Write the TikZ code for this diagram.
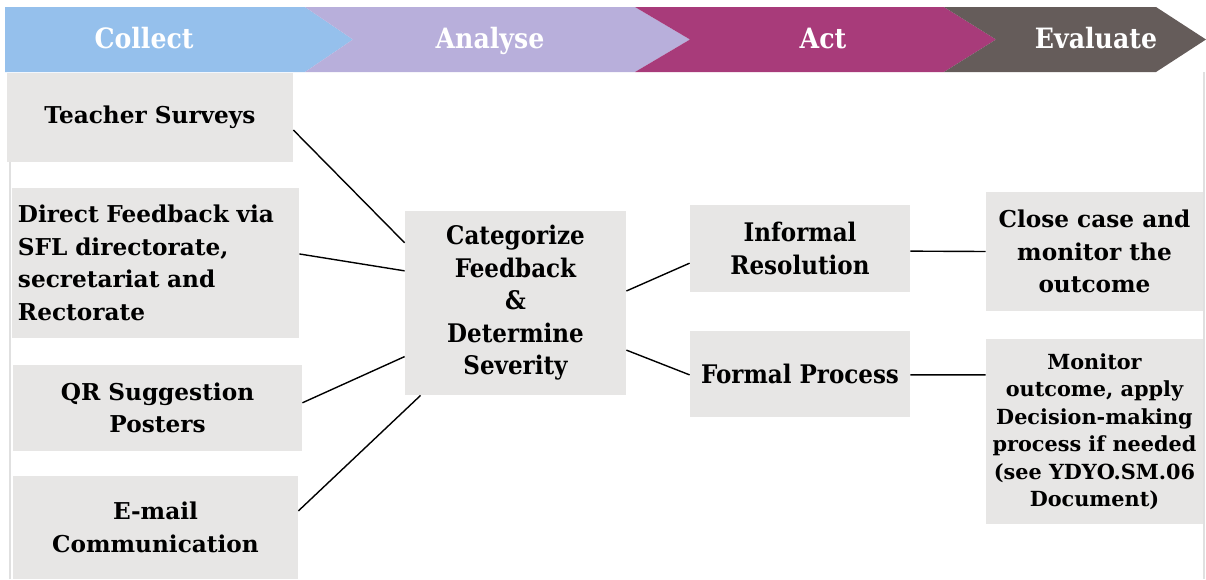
\documentclass[tikz,border=0pt]{standalone}
\usepackage{fontspec}
\setmainfont{DejaVu Serif}
\newfontfamily\condfont{DejaVu Serif Condensed}
\usepackage{tikz}
\usetikzlibrary{calc, positioning}
\definecolor{collectblue}{HTML}{95C0EC}
\definecolor{analysepurple}{HTML}{B8AFDB}
\definecolor{actmagenta}{HTML}{A83B7A}
\definecolor{evalbrown}{HTML}{655C5A}
\definecolor{boxgray}{HTML}{E7E6E5}

\begin{document}
\begin{tikzpicture}[x=0.5pt, y=-0.5pt,
	box/.style={fill=boxgray, inner sep=0pt, align=center, text=black, font=\bfseries\fontsize{11.6}{16.25}\selectfont},
	condbox/.style={box, font=\condfont\bfseries\fontsize{12.8}{16.25}\selectfont},
	head/.style={text=white, text height=1.6ex, text depth=0.4ex, font=\condfont\bfseries\fontsize{14}{16}\selectfont},
	link/.style={draw=black, line width=0.7pt}]
				\useasboundingbox (0,0) rectangle (1206,579);
				\draw[black!12, line width=0.8pt] (10,162) -- (10,579);
				\draw[black!12, line width=0.8pt] (1204,72) -- (1204,579);
				
				\foreach \a/\b/\t/\n/\col/\lx/\lab/\nm in {5/305/353/5/collectblue/144/Collect/hcol, 305/635/690/353/analysepurple/490/Analyse/hana, 635/944/996/690/actmagenta/823/Act/hact, 944/1156/1206/996/evalbrown/1096/Evaluate/heva}
				{
					\fill[\col] (\a,7) -- (\b,7) -- (\t,39.5) -- (\b,72) -- (\a,72) -- (\n,39.5) -- cycle;
					\node[head] (\nm) at (\lx,42) {\lab};
				}
				
				\node[box, minimum width=143pt, minimum height=44.5pt] (tea) at (150,117.5) {Teacher Surveys};
				\node[box, minimum width=143.5pt, minimum height=75pt, align=left, text width=137.5pt, inner xsep=3pt] (dir) at (155.5,263) {Direct Feedback via\\SFL directorate,\\secretariat and\\Rectorate};
				\node[box, minimum width=144.5pt, minimum height=43pt] (qr) at (157.5,408) {QR Suggestion\\Posters};
				\node[box, minimum width=142.5pt, minimum height=51.5pt] (ema) at (155.5,527.5) {E-mail\\Communication};
				
				\node[condbox, minimum width=110.5pt, minimum height=92pt] (cat) at (515.5,303) {Categorize\\Feedback\\\&\\Determine\\Severity};
				
				\node[condbox, minimum width=110pt, minimum height=43.5pt] (inf) at (800,248.5) {Informal\\Resolution};
				\node[condbox, minimum width=110pt, minimum height=43pt] (frm) at (800,374) {Formal Process};
				
				\node[box, minimum width=108.5pt, minimum height=59.5pt] (cls) at (1094.5,251.5) {Close case and\\monitor the\\outcome};
				\node[box, minimum width=108.5pt, minimum height=92.5pt, font=\bfseries\fontsize{10.4}{13.75}\selectfont] (mon) at (1094.5,431.5) {Monitor\\outcome, apply\\Decision-making\\process if needed\\(see YDYO.SM.06\\Document)};
				
				\draw[link] ($(tea.north east)!0.64!(tea.south east)$) -- ($(cat.north west)!0.174!(cat.south west)$);
				\draw[link] ($(dir.north east)!0.44!(dir.south east)$) -- ($(cat.north west)!0.326!(cat.south west)$);
				\draw[link] ($(qr.north east)!0.44!(qr.south east)$) -- ($(cat.north west)!0.79!(cat.south west)$);
				\draw[link] ($(ema.north east)!0.34!(ema.south east)$) -- ($(cat.south west)!0.072!(cat.south east)$);
				\draw[link] ($(cat.north east)!0.435!(cat.south east)$) -- ($(inf.north west)!0.667!(inf.south west)$);
				\draw[link] ($(cat.north east)!0.755!(cat.south east)$) -- ($(frm.north west)!0.51!(frm.south west)$);
				\draw[link] ($(inf.north east)!0.53!(inf.south east)$) -- ($(cls.north west)!0.5!(cls.south west)$);
				\draw[link] ($(frm.north east)!0.51!(frm.south east)$) -- ($(mon.north west)!0.195!(mon.south west)$);
				\end{tikzpicture}
\end{document}
